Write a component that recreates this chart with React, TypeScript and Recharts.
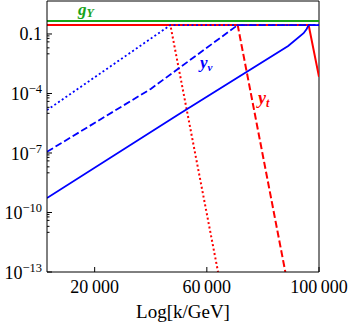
import React from 'react';
import { LineChart, Line, XAxis, YAxis, ReferenceLine } from 'recharts';

// x = Log[k/GeV], y = coupling value
const gYK = [3000, 100000];
const gYVal = [0.45, 0.45];

const ytSolidK = [3000, 96300, 100000];
const ytSolidVal = [0.28, 0.28, 7e-4];
const ytDashedK = [3000, 71000, 88000];
const ytDashedVal = [0.28, 0.28, 1e-13];
const ytDottedK = [3000, 47000, 64000];
const ytDottedVal = [0.28, 0.28, 1e-13];

const ynuSolidK = [3000, 50000, 89000, 94500, 95600, 96300, 100000];
const ynuSolidVal = [5.4e-10, 8.9e-6, 0.025, 0.11, 0.18, 0.28, 0.28];
const ynuDashedK = [3000, 40000, 56000, 71000, 100000];
const ynuDashedVal = [1.15e-7, 1.7e-4, 7.8e-3, 0.28, 0.28];
const ynuDottedK = [3000, 47000, 100000];
const ynuDottedVal = [1.45e-5, 0.28, 0.28];

const xTicks = [20000, 60000, 100000];
const yMajor = [1e-13, 1e-10, 1e-7, 1e-4, 0.1];
const yMinorSteps = [0.8, 0.6, 0.4, 0.2, 0.1];

const BLUE = '#0000ff';
const RED = '#ff0000';
const GREEN = '#1aa31a';
const FONT = '"Liberation Serif", serif';

const toRows = (ks: number[], vs: number[]) => ks.map((k, i) => ({ k, v: vs[i] }));

const yMinor = yMajor
  .filter((m) => m > 1e-13)
  .flatMap((m) => yMinorSteps.map((s) => m * s));
const yTicks = [...yMajor, ...yMinor];

const isMajor = (v: number) =>
  yMajor.some((m) => Math.abs(Math.log10(m) - Math.log10(v)) < 1e-6);

function YTick({ x, y, payload }: any) {
  const v = payload.value;
  const major = isMajor(v);
  const e = Math.round(Math.log10(v));
  return (
    <g>
      <line x1={x} x2={x + (major ? 5 : 2.5)} y1={y} y2={y} stroke="#000" strokeWidth={1} />
      {major &&
        (e === -1 ? (
          <text x={x - 5} y={y + 6} textAnchor="end" fontSize={18} fontFamily={FONT} fill="#000">
            0.1
          </text>
        ) : (
          <text x={x - 5} y={y + 7} textAnchor="end" fontSize={18} fontFamily={FONT} fill="#000">
            10
            <tspan dy={-7} fontSize={12.5}>
              {'\u2212' + -e}
            </tspan>
          </text>
        ))}
    </g>
  );
}

function XTick({ x, y, payload }: any) {
  const label = String(payload.value).replace(/\B(?=(\d{3})+(?!\d))/g, '\u2009');
  return (
    <g>
      <line x1={x} x2={x} y1={y} y2={y - 5} stroke="#000" strokeWidth={1} />
      <text x={x} y={y + 21} textAnchor="middle" fontSize={18} fontFamily={FONT} fill="#000">
        {label}
      </text>
    </g>
  );
}

export default function App() {
  return (
    <div style={{ position: 'absolute', left: 0, top: 0, width: 350, height: 326, background: '#fff' }}>
      <LineChart width={350} height={326} margin={{ top: 1, right: 31, bottom: 0, left: 0 }}>
        <XAxis
          dataKey="k"
          type="number"
          domain={[3000, 100000]}
          allowDataOverflow
          ticks={xTicks}
          interval={0}
          tickSize={0}
          tickMargin={0}
          tickLine={false}
          tick={<XTick />}
          height={54}
          axisLine={{ stroke: '#000', strokeWidth: 1 }}
        />
        <YAxis
          type="number"
          scale="log"
          domain={[1e-13, 4.6]}
          allowDataOverflow
          ticks={yTicks}
          interval={0}
          tickSize={0}
          tickMargin={0}
          tickLine={false}
          tick={<YTick />}
          width={47}
          axisLine={{ stroke: '#000', strokeWidth: 1 }}
        />
        <ReferenceLine y={4.6} stroke="#000" strokeWidth={1} />
        <ReferenceLine x={100000} stroke="#000" strokeWidth={1} />

        <Line data={toRows(gYK, gYVal)} dataKey="v" stroke={GREEN} strokeWidth={2} dot={false} isAnimationActive={false} />

        <Line data={toRows(ytSolidK, ytSolidVal)} dataKey="v" stroke={RED} strokeWidth={2} dot={false} isAnimationActive={false} />
        <Line data={toRows(ytDashedK, ytDashedVal)} dataKey="v" stroke={RED} strokeWidth={2} strokeDasharray="7 3" dot={false} isAnimationActive={false} />
        <Line data={toRows(ytDottedK, ytDottedVal)} dataKey="v" stroke={RED} strokeWidth={2} strokeDasharray="2 2.5" dot={false} isAnimationActive={false} />

        <Line data={toRows(ynuSolidK, ynuSolidVal)} dataKey="v" stroke={BLUE} strokeWidth={1.8} dot={false} isAnimationActive={false} />
        <Line data={toRows(ynuDashedK, ynuDashedVal)} dataKey="v" stroke={BLUE} strokeWidth={1.8} strokeDasharray="7 3" dot={false} isAnimationActive={false} />
        <Line data={toRows(ynuDottedK, ynuDottedVal)} dataKey="v" stroke={BLUE} strokeWidth={1.8} strokeDasharray="2 2.5" dot={false} isAnimationActive={false} />

        <text x={78} y={14.5} fill={GREEN} fontFamily={FONT} fontStyle="italic" fontWeight="bold" fontSize={17}>
          g
          <tspan dy={2} fontSize={12}>
            Y
          </tspan>
        </text>
        <text x={200} y={68} fill={BLUE} fontFamily={FONT} fontStyle="italic" fontWeight="bold" fontSize={17}>
          y
          <tspan dy={3} fontSize={11}>
            ν
          </tspan>
        </text>
        <text x={258} y={104} fill={RED} fontFamily={FONT} fontStyle="italic" fontWeight="bold" fontSize={18}>
          y
          <tspan dy={3} fontSize={12}>
            t
          </tspan>
        </text>
        <text x={183} y={318} textAnchor="middle" fontSize={19} fontFamily={FONT} fill="#000">
          Log[k/GeV]
        </text>
      </LineChart>
    </div>
  );
}
